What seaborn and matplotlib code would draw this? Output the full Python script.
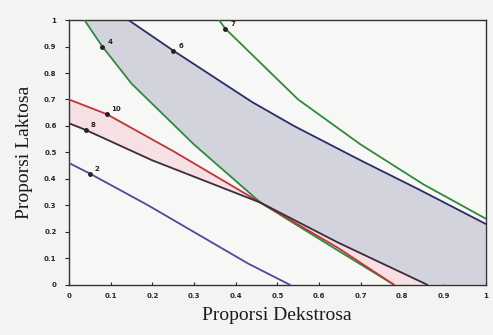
import numpy as np
import pandas as pd
import seaborn as sns
import matplotlib.pyplot as plt

# contour curves (x = dekstrosa, y = laktosa)
c4_x = [0.037, 0.08, 0.15, 0.30, 0.46, 0.645, 0.78]
c4_y = [1.00, 0.90, 0.76, 0.53, 0.31, 0.13, 0.00]

c6_x = [0.143, 0.25, 0.44, 0.54, 0.70, 0.84, 1.00]
c6_y = [1.00, 0.885, 0.69, 0.60, 0.47, 0.36, 0.23]

c7_x = [0.36, 0.375, 0.55, 0.70, 0.85, 1.00]
c7_y = [1.00, 0.968, 0.70, 0.53, 0.38, 0.25]

c10_x = [0.0, 0.09, 0.25, 0.46, 0.645, 0.78]
c10_y = [0.70, 0.645, 0.505, 0.31, 0.14, 0.00]

c8_x = [0.0, 0.04, 0.20, 0.46, 0.645, 0.86]
c8_y = [0.61, 0.585, 0.47, 0.31, 0.16, 0.00]

c2_x = [0.0, 0.05, 0.19, 0.31, 0.43, 0.53]
c2_y = [0.46, 0.42, 0.30, 0.19, 0.08, 0.00]

ticks = [0, 0.1, 0.2, 0.3, 0.4, 0.5, 0.6, 0.7, 0.8, 0.9, 1]
tick_labels = ['0', '0.1', '0.2', '0.3', '0.4', '0.5', '0.6', '0.7', '0.8', '0.9', '1']

curves = [
    ('4', c4_x, c4_y, '#2f8a3c', 1),
    ('6', c6_x, c6_y, '#2b2d66', 1),
    ('7', c7_x, c7_y, '#2f8a3c', 1),
    ('10', c10_x, c10_y, '#c0353a', 1),
    ('8', c8_x, c8_y, '#3a2c3c', 1),
    ('2', c2_x, c2_y, '#4b4c98', 1),
]

sns.set_theme(style="white")
plt.rcParams['font.family'] = ['Liberation Serif', 'DejaVu Serif']

fig = plt.figure(figsize=(4.93, 3.35), dpi=100, facecolor='#f3f3f1')
ax = fig.add_axes([0.14, 0.15, 0.845, 0.79])
ax.set_facecolor('#f7f7f6')

# grey feasible region: above green 4 / dark 8, below navy 6
grey_x = c4_x[:5] + c8_x[4:] + [1.0] + c6_x[::-1]
grey_y = c4_y[:5] + c8_y[4:] + [0.0] + c6_y[::-1]
ax.fill(grey_x, grey_y, color='#d2d3dd', zorder=1, lw=0)

# pink band between red 10 and dark 8
pink_x = c10_x + c8_x[::-1]
pink_y = c10_y + c8_y[::-1]
ax.fill(pink_x, pink_y, color='#f6e0e3', zorder=1, lw=0)

for name, xs, ys, col, idx in curves:
    df = pd.DataFrame({'x': xs, 'y': ys})
    sns.lineplot(data=df, x='x', y='y', sort=False, color=col, lw=1.3, ax=ax, zorder=3)
    ax.plot(xs[idx], ys[idx], marker='o', ms=2.5, color='#222222', zorder=4)
    ax.text(xs[idx] + 0.012, ys[idx] + 0.01, name, fontsize=5, fontweight='bold',
            color='#222222', family=['DejaVu Sans'], zorder=5)

ax.set_xlim(0, 1)
ax.set_ylim(0, 1)
ax.set_xticks(ticks)
ax.set_xticklabels(tick_labels, fontsize=5, fontweight='bold', family=['DejaVu Sans'])
ax.set_yticks(ticks)
ax.set_yticklabels(tick_labels, fontsize=5, fontweight='bold', family=['DejaVu Sans'])
ax.tick_params(axis='x', direction='in', length=2, width=0.8, pad=6, bottom=True)
ax.tick_params(axis='y', direction='out', length=3, width=0.8, pad=6, left=True)
for s in ax.spines.values():
    s.set_color('#333333')
    s.set_linewidth(1.0)

ax.set_xlabel('Proporsi Dekstrosa', fontsize=14, labelpad=6, color='#1a1a1a')
ax.set_ylabel('Proporsi Laktosa', fontsize=14, labelpad=8, color='#1a1a1a')

plt.savefig('out.png', dpi=100, facecolor=fig.get_facecolor())
